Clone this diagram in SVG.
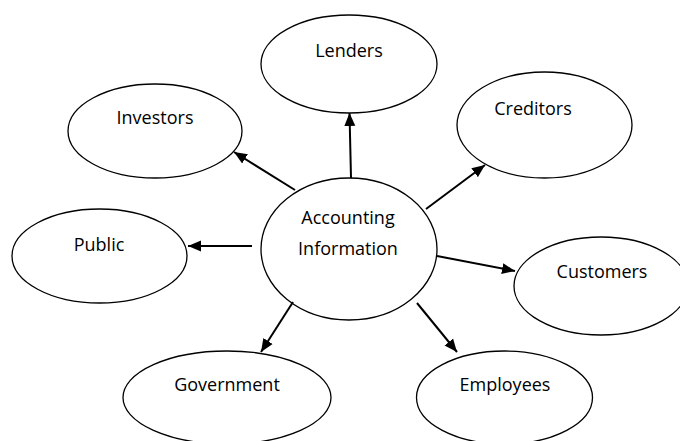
<svg xmlns="http://www.w3.org/2000/svg" width="680" height="441" viewBox="0 0 680 441">
<style>
.node ellipse{fill:#fff;stroke:#000;stroke-width:1.3}
.node text{font-family:"Open Sans","Liberation Sans",sans-serif;font-size:18px;fill:#000;text-anchor:middle}
.conn line{stroke:#000;stroke-width:2;marker-end:url(#ah)}
</style>
<defs>
<marker id="ah" markerUnits="userSpaceOnUse" markerWidth="14" markerHeight="12" viewBox="0 0 14 12" refX="13" refY="6" orient="auto">
<path d="M0,0.5 L13,6 L0,11.5 Z" fill="#000"/>
</marker>
</defs>
<rect width="680" height="441" fill="#fff"/>
<g id="lenders" class="node"><ellipse cx="349" cy="64" rx="88" ry="49"/><text x="349" y="57">Lenders</text></g>
<g id="investors" class="node"><ellipse cx="155" cy="131" rx="87" ry="47"/><text x="155" y="124">Investors</text></g>
<g id="creditors" class="node"><ellipse cx="544.5" cy="125" rx="87.5" ry="53"/><text x="533" y="115">Creditors</text></g>
<g id="public" class="node"><ellipse cx="99.5" cy="256" rx="87.5" ry="47"/><text x="99" y="251">Public</text></g>
<g id="customers" class="node"><ellipse cx="601" cy="286" rx="87" ry="49"/><text x="602" y="278">Customers</text></g>
<g id="government" class="node"><ellipse cx="227" cy="397.5" rx="104" ry="46.5"/><text x="227" y="391">Government</text></g>
<g id="employees" class="node"><ellipse cx="504.5" cy="397.5" rx="88" ry="46.5"/><text x="505" y="391">Employees</text></g>
<g id="accounting" class="node"><ellipse cx="349" cy="249" rx="88" ry="71"/><text x="348" y="224">Accounting</text><text x="348" y="255">Information</text></g>
<g id="connectors" class="conn">
<line x1="351" y1="178" x2="349.5" y2="113"/>
<line x1="295" y1="190" x2="234" y2="152"/>
<line x1="426" y1="209" x2="485" y2="165"/>
<line x1="252" y1="246" x2="188" y2="246"/>
<line x1="293" y1="302" x2="261" y2="352"/>
<line x1="437" y1="256" x2="515" y2="271"/>
<line x1="417" y1="303" x2="457" y2="352"/>
</g>
</svg>
